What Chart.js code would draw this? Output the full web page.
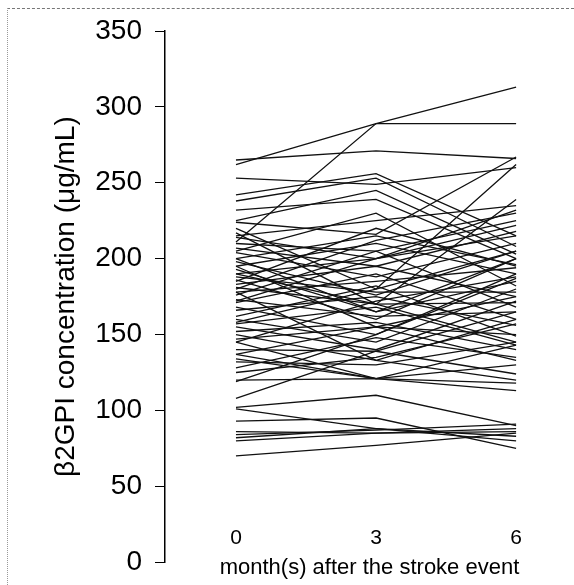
<!DOCTYPE html>
<html>
<head>
<meta charset="utf-8">
<script src="https://cdn.jsdelivr.net/npm/chart.js"></script>
<style>
  html, body { margin: 0; padding: 0; background: #fff; overflow: hidden; }
  #wrap { position: relative; width: 574px; height: 585px; }
  #wrap canvas { position: absolute; left: 0; top: 0; }
  /* scanned page edge */
  #frame { position: absolute; left: 7px; top: 8px; right: 0; bottom: 0;
           border-left: 1px dotted #999; border-top: 1px dashed #777; pointer-events: none; }
</style>
</head>
<body>
<div id="wrap">
  <canvas id="myLineChart" width="574" height="585"></canvas>
  <div id="frame"></div>
</div>
<script>
/*  data
-------------------------------------------------------*/
var months = [0, 3, 6];
var xTicks = [0, 3, 6];
var yTicks = [0, 50, 100, 150, 200, 250, 300, 350];

// one entry per patient, same order in all three arrays
var month0 = [262, 211, 265, 253, 242, 238, 232, 224, 220, 217, 214, 210, 207, 204, 200,
              198, 195, 193, 190, 188, 186, 183, 181, 178, 176, 173, 171, 168, 166, 162,
              160, 157, 155, 152, 150, 147, 145, 140, 137, 134, 132, 128, 125, 120, 119,
              108, 102, 101, 93, 86, 84, 82, 80, 70, 137, 215, 225, 190, 200, 178,
              185, 205, 172, 158, 195, 145, 180];
var month3 = [289, 289, 271, 249, 256, 253, 239, 216, 180, 170, 200, 205, 195, 188, 215,
              176, 210, 165, 200, 178, 160, 195, 170, 185, 205, 162, 190, 150, 175, 182,
              145, 168, 140, 158, 133, 155, 121, 139, 155, 121, 130, 148, 135, 121, 150,
              139, 110, 88, 95, 85, 87, 88, 85, 77, 121, 225, 245, 170, 165, 133,
              220, 230, 200, 180, 155, 172, 212];
var month6 = [313, 289, 266, 260, 215, 208, 200, 267, 262, 239, 232, 225, 218, 210, 196,
              205, 190, 185, 222, 178, 200, 175, 171, 194, 168, 165, 160, 187, 156, 149,
              180, 143, 172, 140, 160, 133, 130, 124, 150, 113, 145, 135, 157, 118, 190,
              165, 90, 80, 75, 88, 91, 83, 86, 85, 143, 235, 203, 145, 200, 120,
              195, 182, 215, 205, 175, 188, 230];

var fontFamily = "'Liberation Sans', Arial, Helvetica, sans-serif";

var datasets = month0.map(function (v, i) {
  var vals = [month0[i], month3[i], month6[i]];
  return {
    label: 'patient ' + (i + 1),
    data: months.map(function (m, j) { return { x: m, y: vals[j] }; }),
    borderColor: '#111',
    borderWidth: 1.3,
    pointRadius: 0,
    tension: 0,
    fill: false
  };
});

/*  chart
-------------------------------------------------------*/
var ctx = document.getElementById('myLineChart');
var myLineChart = new Chart(ctx, {
  type: 'line',
  data: { datasets: datasets },
  options: {
    responsive: false,
    devicePixelRatio: 1,
    animation: false,
    layout: { padding: { top: 31, bottom: 11, left: 0, right: 0 } },
    plugins: {
      legend: { display: false },
      tooltip: { enabled: false }
    },
    scales: {
      x: {
        type: 'linear',
        min: -1.52,
        max: 7.24,
        position: { y: 31 },
        afterBuildTicks: function (s) { s.ticks = xTicks.map(function (v) { return { value: v }; }); },
        grid: { display: false },
        border: { display: false },
        ticks: { padding: 2, color: '#000', font: { family: fontFamily, size: 21 } },
        title: {
          display: true,
          text: 'month(s) after the stroke event',
          color: '#000',
          font: { family: fontFamily, size: 22 },
          padding: { top: 2, bottom: 0 }
        }
      },
      y: {
        min: 0,
        max: 350,
        afterBuildTicks: function (s) { s.ticks = yTicks.map(function (v) { return { value: v }; }); },
        afterFit: function (s) { s.width = 165; },
        grid: { drawOnChartArea: false, drawTicks: true, tickLength: 10, color: '#000', lineWidth: 1 },
        border: { color: '#000', width: 1.5 },
        ticks: { padding: 13, color: '#000', font: { family: fontFamily, size: 28, lineHeight: 0.7 } },
        title: {
          display: true,
          text: 'β2GPI concentration (μg/mL)',
          color: '#000',
          font: { family: fontFamily, size: 28 },
          padding: { top: 49, bottom: 0 }
        }
      }
    }
  }
});
</script>
</body>
</html>
